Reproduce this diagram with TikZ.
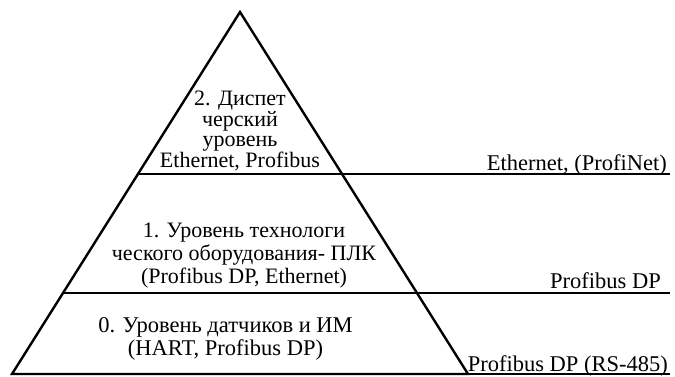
\documentclass[tikz,border=0pt]{standalone}
\usepackage{fontspec}
\setmainfont{Liberation Serif}
\begin{document}
\begin{tikzpicture}[x=1pt,y=-1pt,
  edge/.style={line width=2.4pt, line join=miter},
  divider/.style={line width=2.2pt},
  extline/.style={line width=1.1pt},
  lvltext/.style={align=center, inner sep=0pt},
  bustext/.style={inner sep=0pt, anchor=base east, font=\fontsize{22.5}{24}\selectfont}]
\useasboundingbox (0,0) rectangle (675,376);
% triangle corners
\coordinate (apex) at (240,12);
\coordinate (bl) at (12,374);
\coordinate (br) at (468,374);
% divider ends
\coordinate (l1) at (138,174);
\coordinate (r1) at (342,174);
\coordinate (e1) at (670,174);
\coordinate (l2) at (63,293);
\coordinate (r2) at (417,293);
\coordinate (e2) at (670,293);
\coordinate (e3) at (670,374);
% lines
\draw[edge] (bl) -- (apex) -- (br) -- cycle;
\draw[divider] (l1) -- (r1);
\draw[divider] (l2) -- (r2);
\draw[extline] (r1) -- (e1);
\draw[extline] (r2) -- (e2);
\draw[extline] (br) -- (e3);
% level texts
\node[lvltext, font=\fontsize{22}{20.5}\selectfont] (lvl2) at (240,131) {2. Диспет\\черский\\уровень\\Ethernet, Profibus};
\node[lvltext, font=\fontsize{22}{23}\selectfont] (lvl1) at (244,256) {1. Уровень технологи\\ческого оборудования- ПЛК\\(Profibus DP, Ethernet)};
\node[lvltext, font=\fontsize{22.5}{22.5}\selectfont] (lvl0) at (225.5,339) {0. Уровень датчиков и ИМ\\(HART, Profibus DP)};
% bus labels
\node[bustext] (bus1) at (667,170) {Ethernet, (ProfiNet)};
\node[bustext] (bus2) at (661,288) {Profibus DP};
\node[bustext] (bus3) at (668,371) {Profibus DP (RS-485)};
\end{tikzpicture}
\end{document}
